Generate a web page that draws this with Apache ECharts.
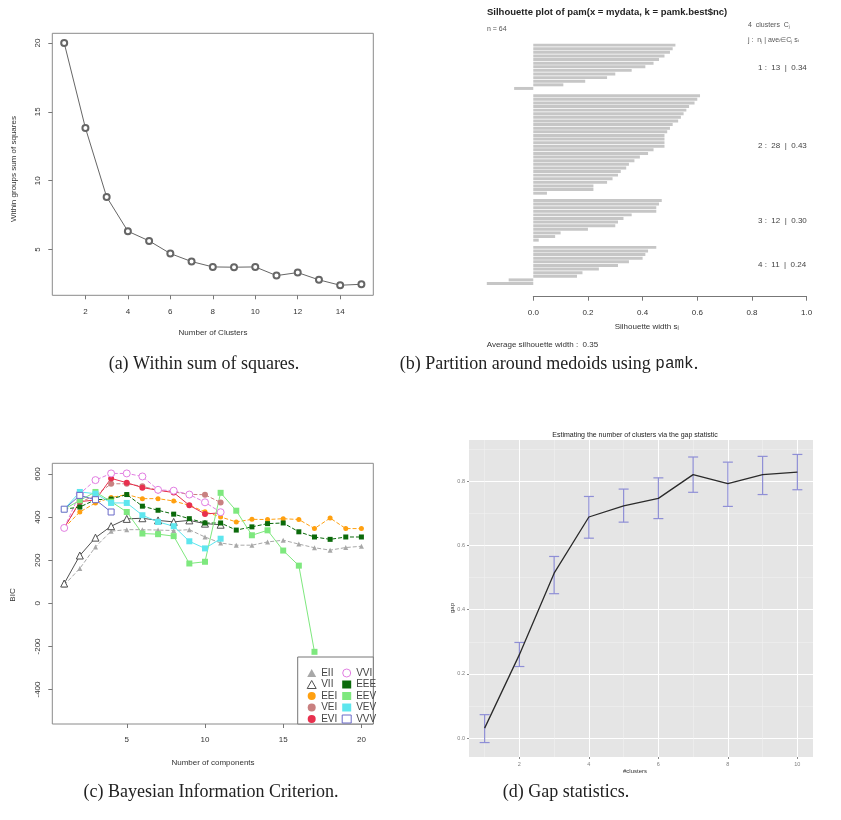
<!DOCTYPE html>
<html>
<head>
<meta charset="utf-8">
<script src="https://cdn.jsdelivr.net/npm/echarts@6/dist/echarts.min.js"></script>
<style>
  html, body { margin: 0; padding: 0; background: #fff; }
  #chart { width: 841px; height: 820px; }
</style>
</head>
<body>
<div id="chart"></div>
<script>
// (a) within groups sum of squares
const wssK = [1, 2, 3, 4, 5, 6, 7, 8, 9, 10, 11, 12, 13, 14, 15];
const wss = [20.0, 13.83, 8.82, 6.33, 5.63, 4.71, 4.13, 3.74, 3.72, 3.74, 3.11, 3.33, 2.80, 2.41, 2.48];
const wssTicksX = [2, 4, 6, 8, 10, 12, 14];
const wssTicksY = [5, 10, 15, 20];

// (b) silhouette widths per cluster (sorted as in the plot)
const sil1 = [0.52, 0.51, 0.50, 0.48, 0.46, 0.44, 0.41, 0.36, 0.30, 0.27, 0.19, 0.11, -0.07];
const sil2 = [0.61, 0.60, 0.59, 0.57, 0.56, 0.55, 0.54, 0.53, 0.51, 0.50, 0.49, 0.48, 0.48, 0.48,
              0.48, 0.44, 0.42, 0.39, 0.37, 0.35, 0.34, 0.32, 0.31, 0.29, 0.27, 0.22, 0.22, 0.05];
const sil3 = [0.47, 0.46, 0.45, 0.45, 0.36, 0.33, 0.31, 0.30, 0.20, 0.10, 0.08, 0.02];
const sil4 = [0.45, 0.42, 0.41, 0.40, 0.35, 0.31, 0.24, 0.18, 0.16, -0.09, -0.17];
const silLabels = ['1 :  13  |  0.34', '2 :  28  |  0.43', '3 :  12  |  0.30', '4 :  11  |  0.24'];

// (c) BIC per model and number of components
const bicX = [1, 2, 3, 4, 5, 6, 7, 8, 9, 10, 11, 12, 13, 14, 15, 16, 17, 18, 19, 20];
const bicEII = [85, 162, 262, 335, 342, 342, 340, 338, 342, 308, 280, 270, 270, 285, 293, 275, 258, 247, 259, 265];
const bicVII = [92, 222, 305, 358, 392, 395, 385, 378, 385, 370, 365, null, null, null, null, null, null, null, null, null];
const bicEEI = [350, 424, 466, 491, 505, 486, 486, 475, 455, 425, 401, 378, 390, 389, 393, 389, 347, 396, 347, 347];
const bicVEI = [350, 470, 500, 555, 555, 543, 525, 517, 506, 504, 468, null, null, null, null, null, null, null, null, null];
const bicEVI = [350, 472, 480, 580, 560, 537, 525, 514, 455, 415, 420, null, null, null, null, null, null, null, null, null];
const bicVVI = [350, 509, 572, 603, 603, 589, 527, 523, 505, 469, 423, null, null, null, null, null, null, null, null, null];
const bicEEE = [437, 447, 481, 484, 505, 451, 432, 414, 393, 373, 373, 340, 355, 370, 373, 332, 308, 297, 308, 308];
const bicEEV = [437, 478, 517, 472, 424, 324, 321, 312, 185, 193, 513, 430, 316, 339, 245, 175, -225, null, null, null];
const bicVEV = [437, 517, 509, 466, 466, 409, 378, 358, 288, 255, 300, null, null, null, null, null, null, null, null, null];
const bicVVV = [437, 501, 481, 424, null, null, null, null, null, null, null, null, null, null, null, null, null, null, null, null];
const bicTicksX = [5, 10, 15, 20];
const bicTicksY = [-400, -200, 0, 200, 400, 600];

// (d) gap statistic with error bars
const gapK = [1, 2, 3, 4, 5, 6, 7, 8, 9, 10];
const gapVal = [0.031, 0.260, 0.514, 0.689, 0.724, 0.747, 0.821, 0.793, 0.821, 0.829];
const gapLo = [-0.014, 0.223, 0.450, 0.623, 0.673, 0.684, 0.766, 0.722, 0.759, 0.774];
const gapHi = [0.073, 0.298, 0.566, 0.753, 0.776, 0.811, 0.876, 0.860, 0.878, 0.884];
const gapTicksX = [2, 4, 6, 8, 10];
const gapTicksY = [0, 0.2, 0.4, 0.6, 0.8];

const SANS = '"Liberation Sans", Arial, sans-serif';
const SERIF = '"Liberation Serif", "DejaVu Serif", serif';

// text helper for the graphic layer
function txt(x, y, s, o) {
  o = o || {};
  const align = o.align || 'center';
  return {
    type: 'text', x: x, y: y, rotation: o.rot || 0, z: 10, silent: true,
    style: {
      text: s, fontSize: o.size || 8, fontFamily: o.family || SANS,
      fontWeight: o.weight || 'normal', fill: o.color || '#333',
      align: align, verticalAlign: 'middle', textAlign: align, textVerticalAlign: 'middle'
    }
  };
}

// R style axes: ticks outside, labels only at given values
function rX(grid, min, max, split, ticks) {
  return {
    gridIndex: grid, type: 'value', min: min, max: max, splitNumber: split,
    axisLine: { show: false, onZero: false }, splitLine: { show: false },
    axisTick: { length: 4, lineStyle: { color: '#777' }, customValues: ticks },
    axisLabel: { customValues: ticks, fontSize: 8, color: '#333', margin: 12, fontFamily: SANS }
  };
}
function rY(grid, min, max, split, ticks) {
  return {
    gridIndex: grid, type: 'value', min: min, max: max, splitNumber: split,
    axisLine: { show: false, onZero: false }, splitLine: { show: false },
    axisTick: { length: 4, lineStyle: { color: '#777' }, customValues: ticks },
    axisLabel: { customValues: ticks, fontSize: 8, color: '#333', margin: 11, rotate: 90, fontFamily: SANS }
  };
}

// silhouette bars with one empty slot between clusters
const silData = [].concat(sil1, ['-'], sil2, ['-'], sil3, ['-'], sil4);
const silCats = silData.map((v, i) => String(i));

const bicModels = [
  { name: 'EII', data: bicEII, color: '#a8a8a8', symbol: 'triangle', open: false, dash: 'dashed', size: 5 },
  { name: 'VII', data: bicVII, color: '#505050', symbol: 'triangle', open: true, dash: 'solid', size: 7 },
  { name: 'EEI', data: bicEEI, color: '#ffa010', symbol: 'circle', open: false, dash: 'dashed', size: 5 },
  { name: 'VEI', data: bicVEI, color: '#c98080', symbol: 'circle', open: false, dash: 'dashed', size: 6 },
  { name: 'EVI', data: bicEVI, color: '#e8304e', symbol: 'circle', open: false, dash: 'solid', size: 6 },
  { name: 'VVI', data: bicVVI, color: '#e27ee2', symbol: 'circle', open: true, dash: 'dashed', size: 7 },
  { name: 'EEE', data: bicEEE, color: '#0b6a0b', symbol: 'rect', open: false, dash: 'dashed', size: 5 },
  { name: 'EEV', data: bicEEV, color: '#7ee87e', symbol: 'rect', open: false, dash: 'solid', size: 6 },
  { name: 'VEV', data: bicVEV, color: '#5ee6ee', symbol: 'rect', open: false, dash: 'solid', size: 6 },
  { name: 'VVV', data: bicVVV, color: '#6a6ac8', symbol: 'rect', open: true, dash: 'solid', size: 6 }
];

const bicSeries = bicModels.map(m => ({
  name: m.name, type: 'line', xAxisIndex: 3, yAxisIndex: 3,
  data: bicX.map((x, i) => [x, m.data[i]]),
  symbol: m.symbol, symbolSize: m.size, showSymbol: true,
  lineStyle: { color: m.color, width: 1, type: m.dash },
  itemStyle: m.open ? { color: '#fff', borderColor: m.color, borderWidth: 1 } : { color: m.color },
  emphasis: { disabled: true }
}));

function legendItems(list) {
  return list.map(m => ({
    name: m.name, icon: m.symbol,
    itemStyle: m.open ? { color: '#fff', borderColor: m.color, borderWidth: 1 } : { color: m.color, borderWidth: 0 }
  }));
}
const legendStyle = {
  orient: 'vertical', itemWidth: 9, itemHeight: 8, itemGap: 1.5, selectedMode: false,
  textStyle: { fontSize: 10, color: '#444', fontFamily: SANS, lineHeight: 10 }
};

const option = {
  backgroundColor: '#fff',
  animation: false,
  grid: [
    { left: 52.3, top: 33.3, width: 321, height: 262, show: true, borderColor: '#8a8a8a', borderWidth: 1, backgroundColor: 'transparent' },
    { left: 478.6, top: 43.3, width: 341.7, height: 242 },
    { left: 533.3, top: 280, width: 273.3, height: 16.7 },
    { left: 52.3, top: 463.3, width: 321, height: 260.7, show: true, borderColor: '#8a8a8a', borderWidth: 1, backgroundColor: 'transparent' },
    { left: 469, top: 440, width: 344, height: 317, show: true, backgroundColor: '#e5e5e5', borderWidth: 0 }
  ],
  xAxis: [
    rX(0, 0.44, 15.56, 7, wssTicksX),
    { gridIndex: 1, type: 'value', min: -0.2, max: 1.05, show: false },
    {
      gridIndex: 2, type: 'value', min: 0, max: 1, interval: 0.2,
      axisLine: { show: true, lineStyle: { color: '#777' } }, splitLine: { show: false },
      axisTick: { length: 4, lineStyle: { color: '#777' } },
      axisLabel: { fontSize: 8, color: '#333', margin: 12, fontFamily: SANS, formatter: v => v.toFixed(1) }
    },
    rX(3, 0.24, 20.76, 4, bicTicksX),
    {
      gridIndex: 4, type: 'value', min: 0.55, max: 10.45, splitNumber: 5,
      axisLine: { show: false, onZero: false },
      splitLine: { show: true, lineStyle: { color: '#ffffff', width: 1 } },
      minorTick: { show: false, splitNumber: 2 },
      minorSplitLine: { show: true, lineStyle: { color: '#f2f2f2', width: 0.5 } },
      axisTick: { length: 2, lineStyle: { color: '#888' }, customValues: gapTicksX },
      axisLabel: { customValues: gapTicksX, fontSize: 5.5, color: '#7f7f7f', margin: 4, fontFamily: SANS }
    }
  ],
  yAxis: [
    rY(0, 1.68, 20.7, 4, wssTicksY),
    { gridIndex: 1, type: 'category', data: silCats, inverse: true, show: false },
    { gridIndex: 2, type: 'value', show: false },
    rY(3, -560, 650, 6, bicTicksY),
    {
      gridIndex: 4, type: 'value', min: -0.059, max: 0.929, splitNumber: 5,
      axisLine: { show: false, onZero: false },
      splitLine: { show: true, lineStyle: { color: '#ffffff', width: 1 } },
      minorTick: { show: false, splitNumber: 2 },
      minorSplitLine: { show: true, lineStyle: { color: '#f2f2f2', width: 0.5 } },
      axisTick: { length: 2, lineStyle: { color: '#888' }, customValues: gapTicksY },
      axisLabel: { customValues: gapTicksY, fontSize: 5.5, color: '#7f7f7f', margin: 4, fontFamily: SANS,
                   formatter: v => v.toFixed(1) }
    }
  ],
  legend: [
    Object.assign({ left: 301.7, top: 663, data: legendItems(bicModels.slice(0, 5)) }, legendStyle),
    Object.assign({ left: 336.7, top: 663, data: legendItems(bicModels.slice(5)) }, legendStyle)
  ],
  series: [
    {
      type: 'line', xAxisIndex: 0, yAxisIndex: 0,
      data: wssK.map((k, i) => [k, wss[i]]),
      symbol: 'emptyCircle', symbolSize: 6,
      lineStyle: { color: '#666', width: 1 },
      itemStyle: { color: '#666', borderColor: '#666', borderWidth: 1 },
      emphasis: { disabled: true }
    },
    {
      type: 'bar', xAxisIndex: 1, yAxisIndex: 1, data: silData,
      barCategoryGap: '18%', itemStyle: { color: '#c6c6c6' }, silent: true
    },
    ...bicSeries,
    {
      type: 'custom', xAxisIndex: 4, yAxisIndex: 4, silent: true,
      data: gapK.map((k, i) => [k, gapLo[i], gapHi[i]]),
      encode: { x: 0, y: [1, 2] },
      renderItem: function (params, api) {
        const x = api.value(0);
        const top = api.coord([x, api.value(2)]);
        const bot = api.coord([x, api.value(1)]);
        const w = 5;
        const st = { stroke: '#8f8fd6', lineWidth: 1.2 };
        return {
          type: 'group',
          children: [
            { type: 'line', shape: { x1: top[0], y1: top[1], x2: bot[0], y2: bot[1] }, style: st },
            { type: 'line', shape: { x1: top[0] - w, y1: top[1], x2: top[0] + w, y2: top[1] }, style: st },
            { type: 'line', shape: { x1: bot[0] - w, y1: bot[1], x2: bot[0] + w, y2: bot[1] }, style: st }
          ]
        };
      }
    },
    {
      type: 'line', xAxisIndex: 4, yAxisIndex: 4,
      data: gapK.map((k, i) => [k, gapVal[i]]),
      showSymbol: false, lineStyle: { color: '#2a2a2a', width: 1.3 },
      emphasis: { disabled: true }
    }
  ],
  graphic: [
    // (a)
    txt(213, 333, 'Number of Clusters'),
    txt(13.3, 169, 'Within groups sum of squares', { rot: Math.PI / 2 }),
    txt(204, 364, '(a) Within sum of squares.', { size: 18, family: SERIF, color: '#222' }),
    // (b)
    txt(487, 12, 'Silhouette plot of pam(x = mydata, k = pamk.best$nc)', { align: 'left', size: 9.5, weight: 'bold', color: '#222' }),
    txt(487, 29, 'n = 64', { align: 'left', size: 7, color: '#555' }),
    txt(748, 25, '4  clusters  Cⱼ', { align: 'left', size: 7, color: '#555' }),
    txt(748, 40, 'j :  nⱼ | aveᵢ∈Cⱼ sᵢ', { align: 'left', size: 7, color: '#555' }),
    txt(758, 67.7, silLabels[0], { align: 'left', size: 8, color: '#444' }),
    txt(758, 145.7, silLabels[1], { align: 'left', size: 8, color: '#444' }),
    txt(758, 220.7, silLabels[2], { align: 'left', size: 8, color: '#444' }),
    txt(758, 264.3, silLabels[3], { align: 'left', size: 8, color: '#444' }),
    txt(646.7, 326.7, 'Silhouette width sᵢ'),
    txt(486.7, 345, 'Average silhouette width :  0.35', { align: 'left' }),
    { type: 'text', x: 549, y: 364, z: 10, silent: true,
      style: { text: '(b) Partition around medoids using {tt|pamk}.', fontSize: 18, fontFamily: SERIF, fill: '#222',
               align: 'center', verticalAlign: 'middle', textAlign: 'center', textVerticalAlign: 'middle',
               rich: { tt: { fontSize: 16, fontFamily: '"Liberation Mono", "DejaVu Sans Mono", monospace', fill: '#222' } } } },
    // (c)
    { type: 'rect', z: 3, shape: { x: 297.7, y: 657, width: 75.6, height: 67 }, style: { fill: '#fff', stroke: '#777', lineWidth: 1 } },
    txt(213, 763, 'Number of components'),
    txt(13, 595, 'BIC', { rot: Math.PI / 2 }),
    txt(211, 792, '(c) Bayesian Information Criterion.', { size: 18, family: SERIF, color: '#222' }),
    // (d)
    txt(635, 435, 'Estimating the number of clusters via the gap statistic', { size: 7, color: '#222' }),
    txt(635, 771, '#clusters', { size: 6, color: '#333' }),
    txt(452, 608, 'gap', { size: 6, color: '#333', rot: Math.PI / 2 }),
    txt(566, 792, '(d) Gap statistics.', { size: 18, family: SERIF, color: '#222' })
  ]
};

const chart = echarts.init(document.getElementById('chart'), null, { renderer: 'canvas' });
chart.setOption(option);
</script>
</body>
</html>
